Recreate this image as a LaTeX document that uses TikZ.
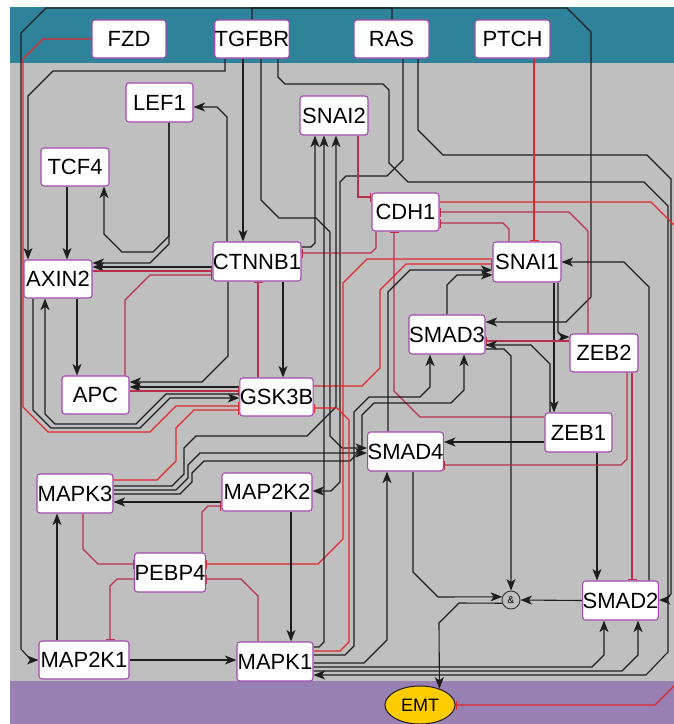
\documentclass[tikz,border=0pt]{standalone}
\usepackage{fontspec}
\setmainfont{Liberation Sans}
\usetikzlibrary{arrows.meta,shapes.geometric}
\definecolor{mteal}{HTML}{2E839B}
\definecolor{bgray}{HTML}{BFBFBF}
\definecolor{mpurple}{HTML}{9880B3}
\definecolor{nodeb}{HTML}{A24BAE}
\definecolor{redA}{HTML}{E0282E}
\definecolor{redB}{HTML}{B8304C}
\definecolor{emty}{HTML}{FFCC00}
\definecolor{ln}{HTML}{1E1E1E}
\pgfdeclarelayer{bg}
\pgfdeclarelayer{edges}
\pgfsetlayers{bg,edges,main}
\begin{document}
\begin{tikzpicture}[x=1pt,y=-1pt,
  gn/.style={draw=nodeb, line width=1.1pt, fill=white, rounded corners=3pt, minimum height=38pt, inner sep=0pt, font=\fontsize{22}{22}\selectfont},
  act/.style={draw=ln, line width=1.1pt, -{Stealth[length=11.5pt,width=9pt,inset=3pt]}},
  inhA/.style={draw=redA, line width=1.1pt, -{Bar[width=9pt,line width=1.3pt]}},
  inhB/.style={draw=redB, line width=1.1pt, -{Bar[width=9pt,line width=1.3pt]}}]
\useasboundingbox (0,0) rectangle (674,724);
\begin{pgfonlayer}{bg}
\fill[white] (0,0) rectangle (674,724);
\fill[mteal] (10,7) rectangle (674,63);
\fill[bgray] (10,63) rectangle (674,681);
\fill[mpurple] (10,681) rectangle (674,724);
\end{pgfonlayer}
% nodes
\node[gn,minimum width=74pt] (FZD) at (129,39) {FZD};
\node[gn,minimum width=74pt] (TGFBR) at (252,39) {TGFBR};
\node[gn,minimum width=75pt] (RAS) at (391.5,39) {RAS};
\node[gn,minimum width=75pt] (PTCH) at (512.5,39) {PTCH};
\node[gn,minimum width=67pt,minimum height=39pt] (LEF1) at (159.5,102.5) {LEF1};
\node[gn,minimum width=68pt,minimum height=39pt] (SNAI2) at (334,115.5) {SNAI2};
\node[gn,minimum width=68pt] (TCF4) at (75,167) {TCF4};
\node[gn,minimum width=67pt] (CDH1) at (405.5,212) {CDH1};
\node[gn,minimum width=88pt,minimum height=39pt] (CTNNB1) at (257,261.5) {CTNNB1};
\node[gn,minimum width=68pt] (AXIN2) at (58,279) {AXIN2};
\node[gn,minimum width=68pt,minimum height=40pt] (SNAI1) at (527,262) {SNAI1};
\node[gn,minimum width=76pt,minimum height=39pt] (SMAD3) at (447,334.5) {SMAD3};
\node[gn,minimum width=68pt] (ZEB2) at (604,353) {ZEB2};
\node[gn,minimum width=67pt] (APC) at (95.5,395) {APC};
\node[gn,minimum width=69pt] (GSK3B) at (276.5,397) {GSK3B};
\node[gn,minimum width=67pt,minimum height=39pt] (ZEB1) at (578.5,432.5) {ZEB1};
\node[gn,minimum width=75pt,minimum height=39pt] (SMAD4) at (405.5,451.5) {SMAD4};
\node[gn,minimum width=76pt,minimum height=39pt] (MAPK3) at (75,493.5) {MAPK3};
\node[gn,minimum width=90pt] (MAP2K2) at (267,492) {MAP2K2};
\node[gn,minimum width=70pt,minimum height=39pt] (PEBP4) at (170,572.5) {PEBP4};
\node[gn,minimum width=75pt,minimum height=39pt] (SMAD2) at (620.5,600.5) {SMAD2};
\node[gn,minimum width=90pt] (MAP2K1) at (84,660) {MAP2K1};
\node[gn,minimum width=76pt,minimum height=39pt] (MAPK1) at (275,661.5) {MAPK1};
\node[circle, draw=ln!90, line width=0.9pt, fill=bgray, minimum size=18pt, inner sep=0pt, font=\fontsize{10}{10}\selectfont] (AND) at (511,600) {\&};
\node[ellipse, draw=ln, line width=1pt, fill=emty, minimum width=70pt, minimum height=38pt, inner sep=0pt, font=\fontsize{18}{18}\selectfont] (EMT) at (420,705) {EMT};
\begin{pgfonlayer}{edges}
% long loops
\draw[act] (392,0 |- RAS.north) -- (392,8) -- (46,8) -- (21,33) -- (21,649) -- (31,660) -- (MAP2K1.west);
\draw[act] (252,0 |- TGFBR.north) -- (252,8) -- (567,8) -- (591,32) -- (591,297) -- (566,322) -- (SMAD3.east |- 0,322);
\draw[act] (225,0 |- TGFBR.south) -- (225,71) -- (53,71) -- (28,96) -- (28,0 |- AXIN2.north);
\draw[act] (243,0 |- TGFBR.south) -- (243,0 |- CTNNB1.north);
\draw[act] (261,0 |- TGFBR.south) -- (261,200) -- (279,218) -- (316,218) -- (330,232) -- (330,436) -- (342,448) -- (SMAD4.west |- 0,448);
\draw[act] (278,0 |- TGFBR.south) -- (278,77) -- (285,84) -- (383,84) -- (389,90) -- (389,163) -- (408,182) -- (644,182) -- (668,206) -- (668,652) -- (646,675) -- (MAPK1.east |- 0,675);
\draw[act] (418,0 |- RAS.south) -- (418,130) -- (443,155) -- (647,155) -- (671,179) -- (671,594) -- (665,600) -- (SMAD2.east |- 0,600);
\draw[act] (403,0 |- RAS.south) -- (403,160) -- (387,176) -- (346,176) -- (340,182) -- (340,482) -- (331,491) -- (MAP2K2.east |- 0,491);
\draw[inhA] (FZD.west) -- (43,39) -- (23,59) -- (23,407) -- (48,432) -- (150,432) -- (176,406) -- (GSK3B.west |- 0,406);
\draw[inhA] (534,0 |- PTCH.south) -- (534,0 |- SNAI1.north);
\draw[inhA] (CDH1.east |- 0,202) -- (651,202) -- (676,227) -- (676,684) -- (655,705) -- (EMT.east);
% Wnt part
\draw[act] (67,0 |- TCF4.south) -- (67,0 |- AXIN2.north);
\draw[act] (169,0 |- LEF1.south) -- (169,236) -- (153,252) -- (122,252) -- (104,234) -- (104,0 |- TCF4.south);
\draw[act] (169,0 |- LEF1.south) -- (169,244) -- (150,263) -- (AXIN2.east |- 0,263);
\draw[act] (CTNNB1.west |- 0,267) -- (AXIN2.east |- 0,267);
\draw[inhB] (AXIN2.east |- 0,271) -- (CTNNB1.west |- 0,271);
\draw[inhB] (125,0 |- APC.north) -- (125,300) -- (150,275) -- (CTNNB1.west |- 0,275);
\draw[act] (227,0 |- CTNNB1.north) -- (227,117) -- (217,107) -- (LEF1.east |- 0,107);
\draw[act] (77,0 |- AXIN2.south) -- (77,0 |- APC.north);
\draw[act] (228,0 |- CTNNB1.south) -- (228,356) -- (202,382) -- (APC.east |- 0,382);
\draw[act] (GSK3B.west |- 0,387) -- (APC.east |- 0,387);
\draw[inhB] (APC.east |- 0,391) -- (GSK3B.west |- 0,391);
\draw[act] (33,0 |- AXIN2.south) -- (33,410) -- (51,428) -- (140,428) -- (170,398) -- (GSK3B.west |- 0,398);
\draw[act] (GSK3B.west |- 0,394) -- (166,394) -- (136,424) -- (55,424) -- (45,414) -- (45,0 |- AXIN2.south);
\draw[act] (283,0 |- CTNNB1.south) -- (283,0 |- GSK3B.north);
\draw[inhB] (258,0 |- GSK3B.north) -- (258,0 |- CTNNB1.south);
\draw[inhB] (376,0 |- CDH1.south) -- (376,248) -- (371,253) -- (CTNNB1.east |- 0,253);
\draw[act] (CTNNB1.east |- 0,247) -- (311,247) -- (315,243) -- (315,0 |- SNAI2.south);
% CDH1 / SNAI / ZEB
\draw[inhB] (358,0 |- SNAI2.south) -- (358,197) -- (CDH1.west |- 0,197);
\draw[inhB] (509,0 |- SNAI1.north) -- (509,229) -- (503,223) -- (CDH1.east |- 0,223);
\draw[inhB] (588,0 |- ZEB2.north) -- (588,231) -- (569,212) -- (CDH1.east |- 0,212);
\draw[inhB] (ZEB1.west |- 0,417) -- (420,417) -- (394,391) -- (394,0 |- CDH1.south);
\draw[inhA] (GSK3B.east |- 0,386) -- (362,386) -- (380,368) -- (380,290) -- (406,264) -- (SNAI1.west |- 0,264);
\draw[inhA] (SNAI1.west |- 0,259) -- (367,259) -- (343,283) -- (343,539) -- (318,564) -- (PEBP4.east |- 0,564);
\draw[act] (447,0 |- SMAD3.north) -- (447,285) -- (457,275) -- (SNAI1.west |- 0,275);
\draw[act] (388,0 |- SMAD4.north) -- (388,292) -- (410,270) -- (SNAI1.west |- 0,270);
\draw[act] (649,0 |- SMAD2.north) -- (649,287) -- (624,262) -- (SNAI1.east |- 0,262);
\draw[act] (554,0 |- SNAI1.south) -- (554,0 |- ZEB1.north);
\draw[act] (558,0 |- SNAI1.south) -- (558,332) -- (563,337) -- (ZEB2.west |- 0,337);
\draw[inhB] (ZEB2.west |- 0,341) -- (SMAD3.east |- 0,341);
\draw[act] (550,0 |- ZEB1.north) -- (550,364) -- (531,345) -- (SMAD3.east |- 0,345);
\draw[act] (SMAD3.east |- 0,349) -- (504,349) -- (511,356) -- (AND.north);
\draw[act] (ZEB1.west |- 0,442) -- (SMAD4.east |- 0,442);
\draw[act] (597,0 |- ZEB1.south) -- (597,0 |- SMAD2.north);
\draw[inhB] (627,0 |- ZEB2.south) -- (627,459) -- (621,465) -- (SMAD4.east |- 0,465);
\draw[inhB] (632,0 |- ZEB2.south) -- (632,0 |- SMAD2.north);
\draw[act] (SMAD2.west) -- (AND.east);
\draw[act] (413,0 |- SMAD4.south) -- (413,572) -- (438,597) -- (AND.160);
\draw[act] (AND.200) -- (459,603) -- (439,623) -- (EMT.40);
% MAPK part
\draw[inhA] (MAPK3.east |- 0,480) -- (157,480) -- (176,461) -- (176,428) -- (194,410) -- (GSK3B.west |- 0,410);
\draw[act] (MAPK3.east |- 0,486) -- (172,486) -- (184,474) -- (184,448) -- (196,436) -- (307,436) -- (336,407) -- (336,0 |- SNAI2.south);
\draw[act] (MAPK3.east |- 0,490) -- (176,490) -- (188,478) -- (188,465) -- (200,453) -- (SMAD4.west |- 0,453);
\draw[act] (MAPK3.east |- 0,494) -- (180,494) -- (192,482) -- (192,473) -- (204,461) -- (350,461) -- (362,449) -- (362,415) -- (374,403) -- (451,403) -- (464,390) -- (464,0 |- SMAD3.south);
\draw[act] (MAP2K2.west |- 0,502) -- (MAPK3.east |- 0,502);
\draw[act] (291,0 |- MAP2K2.south) -- (291,0 |- MAPK1.north);
\draw[act] (57,0 |- MAP2K1.north) -- (57,0 |- MAPK3.south);
\draw[act] (MAP2K1.east) -- (MAPK1.west |- 0,660);
\draw[inhB] (202,0 |- PEBP4.north) -- (202,512) -- (208,506) -- (MAP2K2.west |- 0,506);
\draw[inhB] (83,0 |- MAPK3.south) -- (83,549) -- (98,564) -- (PEBP4.west |- 0,564);
\draw[inhB] (PEBP4.west |- 0,579) -- (117,579) -- (110,586) -- (110,0 |- MAP2K1.north);
\draw[inhB] (258,0 |- MAPK1.north) -- (258,596) -- (241,579) -- (PEBP4.east |- 0,579);
\draw[act] (MAPK1.east |- 0,647) -- (319,647) -- (324,642) -- (324,0 |- SNAI2.south);
\draw[inhA] (MAPK1.east |- 0,651) -- (340,651) -- (349,642) -- (349,420) -- (337,408) -- (GSK3B.east |- 0,408);
\draw[act] (MAPK1.east |- 0,655) -- (345,655) -- (354,646) -- (354,412) -- (369,397) -- (420,397) -- (430,387) -- (430,0 |- SMAD3.south);
\draw[act] (MAPK1.east |- 0,663) -- (364,663) -- (387,640) -- (387,0 |- SMAD4.south);
\draw[act] (MAPK1.east |- 0,667) -- (592,667) -- (604,655) -- (604,0 |- SMAD2.south);
\draw[act] (MAPK1.east |- 0,671) -- (622,671) -- (638,655) -- (638,0 |- SMAD2.south);
\end{pgfonlayer}
\end{tikzpicture}
\end{document}
